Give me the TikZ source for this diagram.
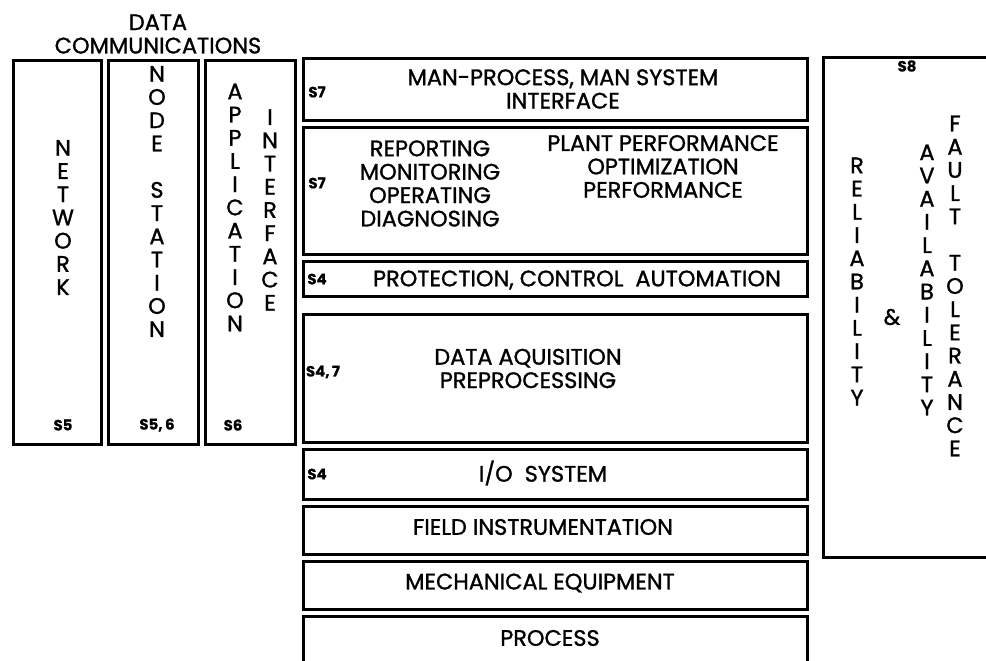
\documentclass[tikz,border=0pt]{standalone}
\usepackage{fontspec}
\setmainfont{Poppins}[UprightFeatures={FakeBold=1.2},BoldFeatures={FakeBold=0.6}]
\begin{document}
\begin{tikzpicture}[x=1bp,y=-1bp,
  frame/.style={draw=black,line width=3bp},
  lbl/.style={font=\fontsize{22.5}{23.5}\selectfont,inner sep=0pt,align=center},
  vert/.style={font=\fontsize{22.5}{23.3}\selectfont,inner sep=0pt,align=center},
  sec/.style={font=\bfseries\fontsize{15}{17}\selectfont,inner sep=0pt}]
\useasboundingbox (0,0) rectangle (986,661);
% left column
\node[lbl] (dc) at (158,34) {DATA\\COMMUNICATIONS};
\draw[frame] (13,61) rectangle (101,444);
\draw[frame] (108,61) rectangle (198,444);
\draw[frame] (205,61) rectangle (295,444);
\node[vert] (net) at (63,217.5) {N\\E\\T\\W\\O\\R\\K};
\node[vert] (node) at (157,201.5) {N\\O\\D\\E\\~\\S\\T\\A\\T\\I\\O\\N};
\node[vert] (app) at (235,207.5) {A\\P\\P\\L\\I\\C\\A\\T\\I\\O\\N};
\node[vert] (intf) at (270,210) {I\\N\\T\\E\\R\\F\\A\\C\\E};
\node[sec] (s5) at (63,425) {S5};
\node[sec] (s56) at (157,425) {S5,\,6};
\node[sec] (s6) at (233,425) {S6};
% middle column
\draw[frame] (303,59) rectangle (807,121);
\draw[frame] (303,128) rectangle (807,254);
\draw[frame] (303,261) rectangle (807,296);
\draw[frame] (303,314) rectangle (807,442);
\draw[frame] (303,449) rectangle (807,499);
\draw[frame] (303,506) rectangle (807,554);
\draw[frame] (303,561) rectangle (807,609);
\draw[frame] (303,680) -- (303,616) -- (807,616) -- (807,680);
\node[lbl] (mmi) at (563,89) {MAN-PROCESS, MAN SYSTEM\\INTERFACE};
\node[sec] (s7a) at (317,92) {S7};
\node[lbl] (rep) at (430,183.5) {REPORTING\\MONITORING\\OPERATING\\DIAGNOSING};
\node[lbl] (ppo) at (663,166.5) {PLANT PERFORMANCE\\OPTIMIZATION\\PERFORMANCE};
\node[sec] (s7b) at (317,183) {S7};
\node[lbl] (prot) at (577,280) {PROTECTION, CONTROL\ \ AUTOMATION};
\node[sec] (s4a) at (317,279) {S4};
\node[lbl] (daq) at (528,368.5) {DATA AQUISITION\\PREPROCESSING};
\node[sec] (s47) at (323,372) {S4,\,7};
\node[lbl] (io) at (543,473) {I/O\ \ SYSTEM};
\node[sec] (s4b) at (317,474) {S4};
\node[lbl] (field) at (543,527) {FIELD INSTRUMENTATION};
\node[lbl] (mech) at (540,583) {MECHANICAL EQUIPMENT};
\node[lbl] (proc) at (550,638) {PROCESS};
% right column
\draw[frame] (823,58) rectangle (1000,557);
\node[sec] (s8) at (907,66) {S8};
\node[vert] (rel) at (857,281.5) {R\\E\\L\\I\\A\\B\\I\\L\\I\\T\\Y};
\node[lbl] (amp) at (892,317) {\&};
\node[vert] (avail) at (927,280) {A\\V\\A\\I\\L\\A\\B\\I\\L\\I\\T\\Y};
\node[vert] (ft) at (955,286) {F\\A\\U\\L\\T\\~\\T\\O\\L\\E\\R\\A\\N\\C\\E};
\end{tikzpicture}
\end{document}
